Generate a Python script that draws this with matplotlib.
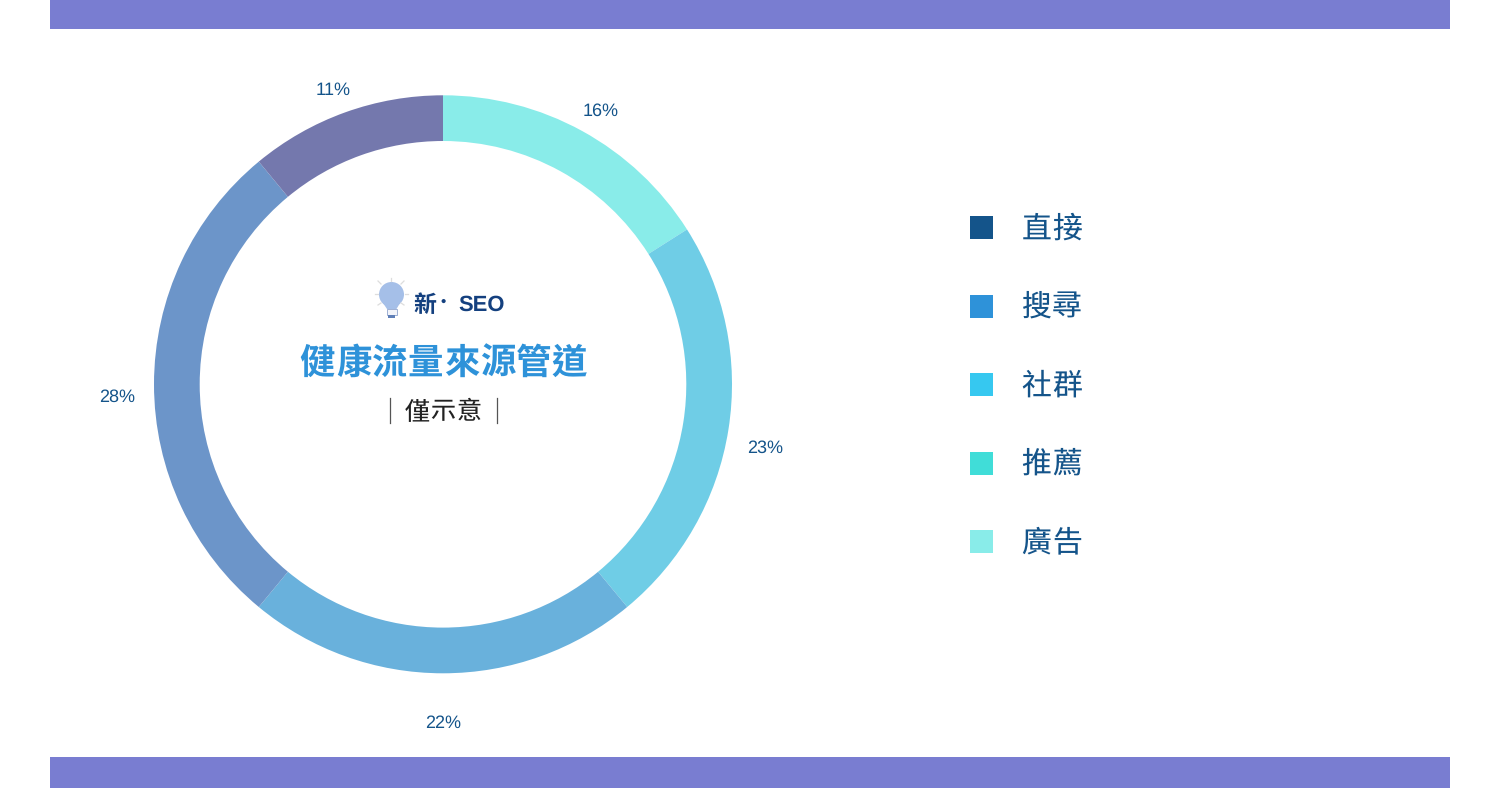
import matplotlib
matplotlib.use('Agg')
import matplotlib.pyplot as plt
from matplotlib.patches import Rectangle, Circle, Polygon

W, H = 1500, 788

plt.rcParams['font.family'] = ['Noto Sans CJK TC', 'DejaVu Sans']
plt.rcParams['text.hinting'] = 'no_hinting'
plt.rcParams['text.hinting_factor'] = 1

# clockwise from 12 o'clock
shares = [16, 23, 22, 28, 11]
share_labels = ['16%', '23%', '22%', '28%', '11%']
ring_colors = ['#89ece9', '#6fcde6', '#69b1dc', '#6c95c9', '#7478ad']

legend_names = ['直接', '搜尋', '社群', '推薦', '廣告']
legend_colors = ['#14548a', '#2e92d9', '#36c8f0', '#40ddd8', '#89ece9']

title = '健康流量來源管道'
subtitle = '僅示意'
brand = ['新', '·', 'SEO']

BAR = '#797dd1'
TEXT = '#14548a'


def spaced(canvas, x, y, s, step, **kw):
    # one glyph at a time, matplotlib has no letter spacing
    for i, ch in enumerate(s):
        canvas.text(x + i * step, y, ch, ha='center', va='center', **kw)


fig = plt.figure(figsize=(W / 100, H / 100), dpi=100, facecolor='white')

# pixel canvas for everything that is not the ring
bg = fig.add_axes([0, 0, 1, 1])
bg.set_xlim(0, W)
bg.set_ylim(H, 0)
bg.axis('off')

bg.add_patch(Rectangle((50, 0), 1400, 28.5, color=BAR, lw=0))
bg.add_patch(Rectangle((50, 757), 1400, 31, color=BAR, lw=0))

# ring
cx, cy, r = 443, 384.3, 289
ax = fig.add_axes([(cx - r) / W, 1 - (cy + r) / H, 2 * r / W, 2 * r / H])
ax.pie(shares, colors=ring_colors, startangle=90, counterclock=False, radius=1,
       wedgeprops={'width': 45.7 / 289, 'linewidth': 0})
ax.set_xlim(-1, 1)
ax.set_ylim(-1, 1)
ax.patch.set_alpha(0)

label_px = [(600.5, 111), (765, 448), (443.5, 723), (117.5, 397), (333, 90)]
for (x, y), t in zip(label_px, share_labels):
    bg.text(x, y, t, ha='center', va='center', fontsize=13.2, color=TEXT,
            family=['Liberation Sans'])

# legend
for i, (name, c) in enumerate(zip(legend_names, legend_colors)):
    y = 227.5 + i * 78.5
    bg.add_patch(Rectangle((970, y - 11.5), 23, 23, color=c, lw=0))
    spaced(bg, 1036.5, y + 1.5, name, 30.5, fontsize=21.5, color=TEXT)

# centre text
spaced(bg, 317.5, 363.5, title, 36, fontsize=25.5, color='#2e92d9', weight='bold')
spaced(bg, 417, 412, subtitle, 26, fontsize=18, color='#222222')
bg.plot([390, 390], [398, 423], color='#555555', lw=0.9)
bg.plot([497, 497], [398, 423], color='#555555', lw=0.9)

# bulb logo
for x0, y0, x1, y1 in [(391, 281, 391, 278), (381, 284, 378, 281), (401, 284, 404, 281),
                       (378, 294, 375, 294), (405, 294, 408, 294),
                       (381, 303, 378, 305), (401, 303, 404, 305)]:
    bg.plot([x0, x1], [y0, y1], color='#dddddd', lw=0.9)
bg.add_patch(Circle((391.5, 294.5), 12.5, color='#a5bfe8', lw=0))
bg.add_patch(Polygon([(383, 303), (400, 303), (396.5, 309), (387, 309)], color='#a5bfe8', lw=0))
bg.add_patch(Rectangle((386.5, 308.5), 10, 6, facecolor='#f2f4fa', edgecolor='#9fb0d4', lw=0.7))
bg.add_patch(Rectangle((388, 315), 7, 2.5, color='#5f7fb8', lw=0))

bg.text(425, 305, brand[0], ha='center', va='center', fontsize=16.5, color='#14407f', weight='bold')
bg.text(443, 302, brand[1], ha='center', va='center', fontsize=11, color='#14407f', weight='bold')
bg.text(482, 305, brand[2], ha='center', va='center', fontsize=16, color='#14407f', weight='bold',
        family=['Liberation Sans'])

fig.savefig('out.png', dpi=100)
